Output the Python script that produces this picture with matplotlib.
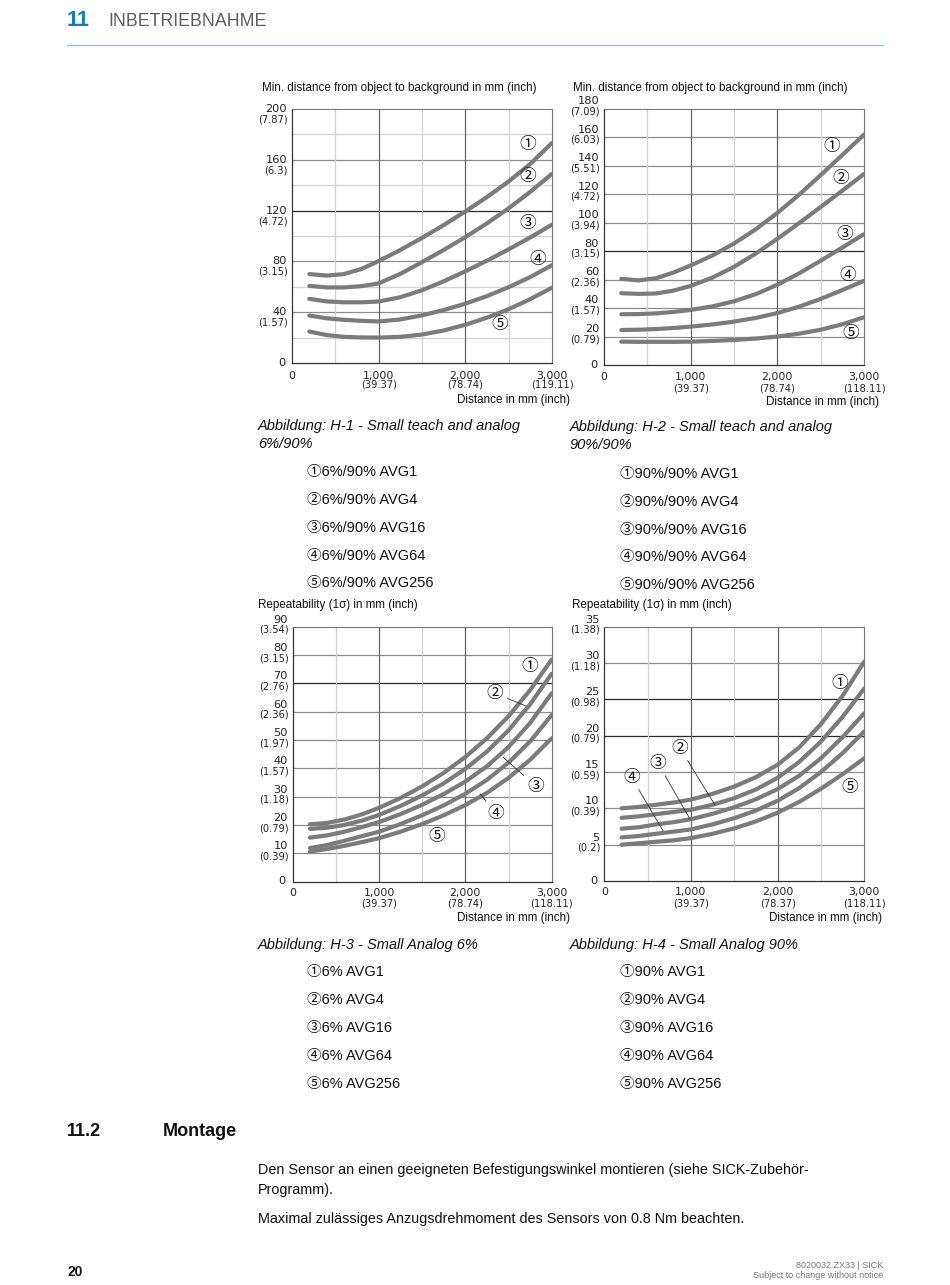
import matplotlib
matplotlib.use('Agg')
import matplotlib.pyplot as plt
from matplotlib import font_manager

# ---------------- data ----------------
dist_mm = [200, 400, 600, 800, 1000, 1250, 1500, 1750, 2000, 2250, 2500, 2750, 3000]
series_names = ["AVG1", "AVG4", "AVG16", "AVG64", "AVG256"]

# H-1: min. distance object/background, 6%/90%
h1_avg1 = [70.0, 68.8, 70.0, 74.0, 80.3, 89.0, 98.5, 108.6, 119.3, 130.7, 143.0, 156.8, 173.3]
h1_avg4 = [60.7, 59.5, 59.5, 60.5, 62.7, 70.2, 79.4, 89.0, 99.1, 110.0, 121.8, 134.8, 149.0]
h1_avg16 = [50.5, 48.5, 47.8, 47.8, 48.4, 51.8, 57.3, 64.3, 72.2, 80.6, 89.5, 98.9, 109.0]
h1_avg64 = [37.4, 35.2, 34.0, 33.2, 32.7, 34.3, 37.5, 41.7, 46.7, 52.7, 59.7, 67.7, 77.0]
h1_avg256 = [24.8, 22.0, 20.6, 20.1, 20.0, 20.6, 22.4, 25.6, 30.1, 35.7, 42.4, 50.3, 59.3]

# H-2: min. distance object/background, 90%/90%
h2_avg1 = [60.6, 59.5, 61.0, 65.0, 70.0, 77.0, 85.4, 95.4, 106.9, 119.7, 133.5, 147.7, 162.0]
h2_avg4 = [50.5, 50.0, 50.3, 52.3, 55.6, 61.4, 69.0, 78.3, 88.7, 99.7, 111.1, 122.6, 134.3]
h2_avg16 = [35.7, 35.8, 36.3, 37.3, 38.7, 41.2, 44.8, 49.8, 56.4, 64.4, 73.3, 82.6, 92.0]
h2_avg64 = [24.6, 24.8, 25.3, 26.0, 27.0, 28.5, 30.5, 33.1, 36.5, 41.0, 46.5, 52.7, 59.2]
h2_avg256 = [16.4, 16.3, 16.3, 16.3, 16.4, 16.9, 17.6, 18.6, 20.0, 22.0, 24.8, 28.6, 33.6]

# H-3: repeatability, 6%
h3_avg1 = [20.2, 20.7, 21.9, 23.7, 26.0, 29.5, 33.6, 38.4, 44.0, 50.6, 58.4, 67.6, 78.4]
h3_avg4 = [18.6, 19.0, 20.0, 21.5, 23.5, 26.7, 30.4, 34.7, 39.8, 45.9, 53.4, 62.6, 73.4]
h3_avg16 = [15.5, 16.3, 17.6, 19.2, 21.0, 23.8, 27.1, 30.9, 35.3, 40.7, 47.5, 56.0, 66.5]
h3_avg64 = [11.8, 12.9, 14.4, 16.0, 17.6, 20.3, 23.4, 26.9, 31.0, 35.9, 42.0, 49.5, 58.8]
h3_avg256 = [10.6, 11.5, 12.6, 13.9, 15.3, 17.6, 20.3, 23.4, 27.0, 31.3, 36.6, 43.0, 50.6]

# H-4: repeatability, 90%
h4_avg1 = [10.0, 10.2, 10.5, 10.8, 11.2, 12.0, 13.0, 14.3, 16.0, 18.4, 21.6, 25.5, 30.2]
h4_avg4 = [8.7, 8.9, 9.2, 9.5, 9.8, 10.5, 11.4, 12.6, 14.2, 16.4, 19.2, 22.6, 26.5]
h4_avg16 = [7.2, 7.4, 7.8, 8.1, 8.5, 9.25, 10.15, 11.25, 12.65, 14.5, 16.9, 19.8, 23.1]
h4_avg64 = [6.0, 6.2, 6.5, 6.8, 7.1, 7.8, 8.65, 9.7, 11.05, 12.8, 15.0, 17.6, 20.6]
h4_avg256 = [5.0, 5.2, 5.4, 5.6, 5.9, 6.5, 7.25, 8.2, 9.4, 10.9, 12.7, 14.7, 16.9]

x_ticks = [0, 1000, 2000, 3000]
x_labels = ["0", "1,000", "2,000", "3,000"]
x_inch_h1 = ["", "(39.37)", "(78.74)", "(119.11)"]
x_inch_h2 = ["", "(39.37)", "(78.74)", "(118.11)"]
x_inch_h3 = ["", "(39.37)", "(78.74)", "(118.11)"]
x_inch_h4 = ["", "(39.37)", "(78.37)", "(118.11)"]

y_ticks_h1 = [0, 40, 80, 120, 160, 200]
y_inch_h1 = ["", "(1.57)", "(3.15)", "(4.72)", "(6.3)", "(7.87)"]
y_ticks_h2 = [0, 20, 40, 60, 80, 100, 120, 140, 160, 180]
y_inch_h2 = ["", "(0.79)", "(1.57)", "(2.36)", "(3.15)", "(3.94)", "(4.72)", "(5.51)", "(6.03)", "(7.09)"]
y_ticks_h3 = [0, 10, 20, 30, 40, 50, 60, 70, 80, 90]
y_inch_h3 = ["", "(0.39)", "(0.79)", "(1.18)", "(1.57)", "(1.97)", "(2.36)", "(2.76)", "(3.15)", "(3.54)"]
y_ticks_h4 = [0, 5, 10, 15, 20, 25, 30, 35]
y_inch_h4 = ["", "(0.2)", "(0.39)", "(0.59)", "(0.79)", "(0.98)", "(1.18)", "(1.38)"]

# ---------------- fonts ----------------
installed = {f.name for f in font_manager.fontManager.ttflist}
TXT = 'Liberation Sans Narrow' if 'Liberation Sans Narrow' in installed else 'Liberation Sans'
TXT_FAM = [TXT, 'Noto Sans CJK JP', 'DejaVu Sans']
NUM_FAM = ['DejaVu Sans']
CIRC_FAM = ['Noto Sans CJK JP', 'DejaVu Sans']
circ = ["\u2460", "\u2461", "\u2462", "\u2463", "\u2464"]

W, H = 950, 1285
fig = plt.figure(figsize=(W / 100, H / 100), dpi=100)


def fx(x):
    return x / W


def fy(y):
    return 1 - y / H


def ftext(x, y, s, **kw):
    kw.setdefault('va', 'center')
    kw.setdefault('ha', 'left')
    kw.setdefault('family', TXT_FAM)
    fig.text(fx(x), fy(y), s, **kw)


CURVE = '#7b7b7b'
DARK = '#2a2a2a'
MED = '#8c8c8c'
LIGHT = '#d2d2d2'
NUM_FS = 7.8
YNUM_FS = 8.2
INCH_FS = 7.1


def make_chart(box, curves, ymax, y_ticks, y_inch, x_inch, grid_y, grid_x, num_off, inch_off,
               xnum_off, xinch_off):
    l, t, r, b = box
    ax = fig.add_axes([fx(l), fy(b), fx(r) - fx(l), (b - t) / H])
    ax.set_xlim(0, 3000)
    ax.set_ylim(0, ymax)
    for lvl, col in grid_y:
        ax.axhline(lvl, color=col, lw=0.9, zorder=1)
    for lvl, col in grid_x:
        ax.axvline(lvl, color=col, lw=0.9, zorder=1)
    for ys in curves:
        ax.plot(dist_mm, ys, color=CURVE, lw=3.0, solid_capstyle='round',
                solid_joinstyle='round', zorder=3)
    for side in ['top', 'right']:
        ax.spines[side].set_color('#777777')
        ax.spines[side].set_linewidth(0.8)
    for side in ['left', 'bottom']:
        ax.spines[side].set_color('#333333')
        ax.spines[side].set_linewidth(0.9)
    ax.set_xticks([])
    ax.set_yticks([])
    # y labels
    for v, inch in zip(y_ticks, y_inch):
        if v == 0:
            ax.annotate("0", xy=(0, v), xycoords=('axes fraction', 'data'),
                        xytext=(-5, 0), textcoords='offset points', ha='right', va='center',
                        fontsize=YNUM_FS, family=NUM_FAM, color='#222')
            continue
        ax.annotate(str(v), xy=(0, v), xycoords=('axes fraction', 'data'),
                    xytext=(-3.5, num_off), textcoords='offset points', ha='right', va='center',
                    fontsize=YNUM_FS, family=NUM_FAM, color='#222')
        ax.annotate(inch, xy=(0, v), xycoords=('axes fraction', 'data'),
                    xytext=(-3, inch_off), textcoords='offset points', ha='right', va='center',
                    fontsize=INCH_FS, family=NUM_FAM, color='#222')
    for v, lab, inch in zip(x_ticks, x_labels, x_inch):
        ax.annotate(lab, xy=(v, 0), xycoords=('data', 'axes fraction'),
                    xytext=(0, xnum_off), textcoords='offset points', ha='center', va='center',
                    fontsize=NUM_FS, family=NUM_FAM, color='#222')
        if inch:
            ax.annotate(inch, xy=(v, 0), xycoords=('data', 'axes fraction'),
                        xytext=(0, xinch_off), textcoords='offset points', ha='center', va='center',
                        fontsize=INCH_FS, family=NUM_FAM, color='#222')
    return ax


def circ_label(ax, i, pos, target=None):
    if target is None:
        ax.text(pos[0], pos[1], circ[i], ha='center', va='center', fontsize=12,
                family=CIRC_FAM, color='#111', zorder=5)
    else:
        ax.annotate(circ[i], xy=target, xytext=pos, ha='center', va='center', fontsize=12,
                    family=CIRC_FAM, color='#111', zorder=5,
                    arrowprops=dict(arrowstyle='-', color='#333', lw=0.6, shrinkA=1, shrinkB=0))


# ---------- chart H-1 ----------
g1y = [(v, (DARK if v == 120 else MED if v in (40, 80, 160) else LIGHT)) for v in range(20, 200, 20)]
g1x = [(500, LIGHT), (1000, '#666666'), (1500, LIGHT), (2000, '#666666'), (2500, LIGHT)]
ax1 = make_chart((292, 109, 552, 363), [h1_avg1, h1_avg4, h1_avg16, h1_avg64, h1_avg256],
                 200, y_ticks_h1, y_inch_h1, x_inch_h1, g1y, g1x, 0, -7.5, -9.5, -15.5)
for i, p in enumerate([(2725, 171.8), (2725, 147), (2725, 110), (2834, 81.8), (2402, 30)]):
    circ_label(ax1, i, p)

# ---------- chart H-2 ----------
g2y = [(v, DARK if v == 80 else MED) for v in range(20, 180, 20)]
g2x = [(500, LIGHT), (1000, '#666666'), (1500, LIGHT), (2000, '#666666'), (2500, LIGHT)]
ax2 = make_chart((604, 109, 864, 365), [h2_avg1, h2_avg4, h2_avg16, h2_avg64, h2_avg256],
                 180, y_ticks_h2, y_inch_h2, x_inch_h2, g2y, g2x, 5.5, -1.8, -8.5, -17)
for i, p in enumerate([(2624, 153.7), (2731, 131), (2777, 92), (2808, 62.6), (2847, 22.3)]):
    circ_label(ax2, i, p)

# ---------- chart H-3 ----------
g3y = [(v, DARK if v == 70 else MED) for v in range(10, 90, 10)]
g3x = [(500, LIGHT), (1000, '#666666'), (1500, LIGHT), (2000, '#666666'), (2500, LIGHT)]
ax3 = make_chart((292.7, 626.7, 551.7, 881.5), [h3_avg1, h3_avg4, h3_avg16, h3_avg64, h3_avg256],
                 90, y_ticks_h3, y_inch_h3, x_inch_h3, g3y, g3x, 5.0, -2.3, -8, -16)
circ_label(ax3, 0, (2748, 75.8))
circ_label(ax3, 1, (2343, 66.4), (2703, 62))
circ_label(ax3, 2, (2818, 33.7), (2440, 43.8))
circ_label(ax3, 3, (2355, 24), (2170, 31))
circ_label(ax3, 4, (1668, 16))

# ---------- chart H-4 ----------
g4y = [(v, DARK if v in (20, 25) else MED) for v in range(5, 35, 5)]
g4x = [(500, LIGHT), (1000, '#666666'), (1500, LIGHT), (2000, '#666666'), (2500, LIGHT)]
ax4 = make_chart((604.3, 626.7, 864.3, 881), [h4_avg1, h4_avg4, h4_avg16, h4_avg64, h4_avg256],
                 35, y_ticks_h4, y_inch_h4, x_inch_h4, g4y, g4x, 5.0, -2.3, -8, -16)
circ_label(ax4, 0, (2720, 27.2))
circ_label(ax4, 1, (873, 18.3), (1280, 10.4))
circ_label(ax4, 2, (620, 16.2), (990, 8.5))
circ_label(ax4, 3, (313, 14.3), (678, 6.9))
circ_label(ax4, 4, (2835, 12.8))

# ---------- axis titles ----------
AT = 8.4
ftext(262, 88, "Min. distance from object to background in mm (inch)", fontsize=AT, color='#111')
ftext(573, 88, "Min. distance from object to background in mm (inch)", fontsize=AT, color='#111')
ftext(258, 605, "Repeatability (1\u03c3) in mm (inch)", fontsize=AT, color='#111')
ftext(572, 605, "Repeatability (1\u03c3) in mm (inch)", fontsize=AT, color='#111')
ftext(570, 400, "Distance in mm (inch)", fontsize=AT, color='#111', ha='right')
ftext(879, 402, "Distance in mm (inch)", fontsize=AT, color='#111', ha='right')
ftext(570, 918, "Distance in mm (inch)", fontsize=AT, color='#111', ha='right')
ftext(882, 918, "Distance in mm (inch)", fontsize=AT, color='#111', ha='right')

# ---------- captions & legends ----------
CAP = 10.5
ftext(258, 426, "Abbildung: H-1 - Small teach and analog", fontsize=CAP, style='italic', color='#111')
ftext(258, 444, "6%/90%", fontsize=CAP, style='italic', color='#111')
ftext(570, 427, "Abbildung: H-2 - Small teach and analog", fontsize=CAP, style='italic', color='#111')
ftext(570, 445, "90%/90%", fontsize=CAP, style='italic', color='#111')
ftext(258, 945, "Abbildung: H-3 - Small Analog 6%", fontsize=CAP, style='italic', color='#111')
ftext(570, 945, "Abbildung: H-4 - Small Analog 90%", fontsize=CAP, style='italic', color='#111')

for i, (y, nm) in enumerate(zip([472, 500, 528, 556, 583], series_names)):
    ftext(307, y, circ[i] + "6%/90% " + nm, fontsize=CAP, color='#111')
for i, (y, nm) in enumerate(zip([474, 502, 530, 557, 585], series_names)):
    ftext(620, y, circ[i] + "90%/90% " + nm, fontsize=CAP, color='#111')
for i, (y, nm) in enumerate(zip([972, 1000, 1028, 1056, 1084], series_names)):
    ftext(307, y, circ[i] + "6% " + nm, fontsize=CAP, color='#111')
    ftext(620, y, circ[i] + "90% " + nm, fontsize=CAP, color='#111')

# ---------- header ----------
ftext(67, 21, "11", fontsize=15.5, weight='bold', color='#0f7cc1')
ftext(108, 22, "INBETRIEBNAHME", fontsize=12.8, color='#5e5e5e')
fig.add_artist(plt.Line2D([fx(67), fx(883)], [fy(45), fy(45)], color='#8fc7e6', lw=1.0))

# ---------- section 11.2 ----------
ftext(67, 1132, "11.2", fontsize=13, weight='bold', color='#111')
ftext(163, 1132, "Montage", fontsize=13, weight='bold', color='#111')
BODY = 10.4
ftext(258, 1170, "Den Sensor an einen geeigneten Befestigungswinkel montieren (siehe SICK-Zubeh\u00f6r-",
      fontsize=BODY, color='#111')
ftext(258, 1190, "Programm).", fontsize=BODY, color='#111')
ftext(258, 1219, "Maximal zul\u00e4ssiges Anzugsdrehmoment des Sensors von 0.8 Nm beachten.",
      fontsize=BODY, color='#111')

# ---------- footer ----------
ftext(67, 1272, "20", fontsize=10, weight='bold', color='#111')
ftext(883, 1266, "8020032 ZX33 | SICK", fontsize=6.5, color='#777', ha='right')
ftext(883, 1275, "Subject to change without notice", fontsize=6.5, color='#777', ha='right')

fig.savefig('out.png', dpi=100)
